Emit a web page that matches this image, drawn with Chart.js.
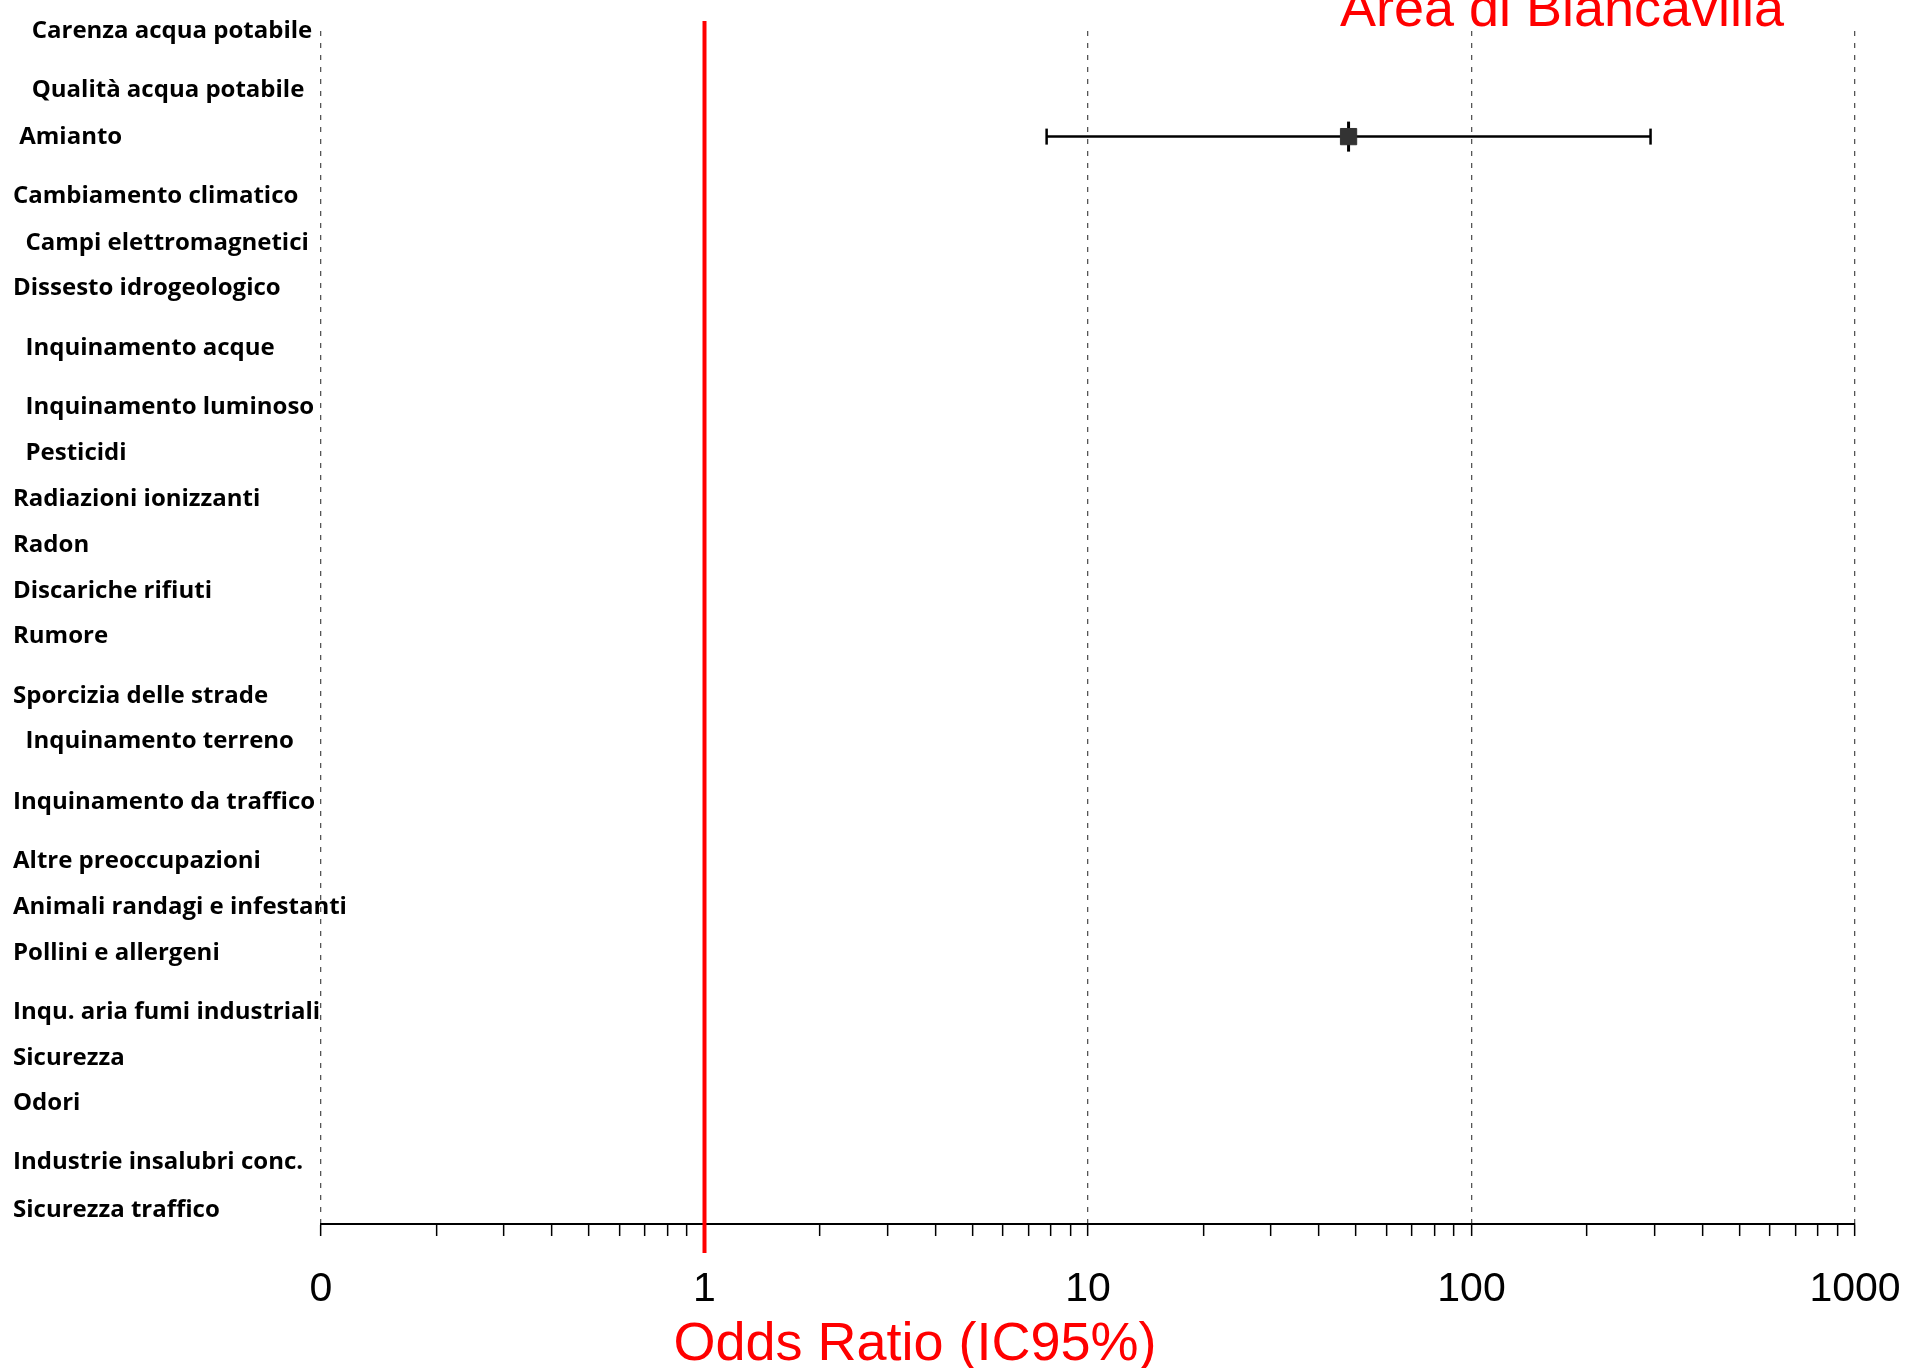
<!doctype html>
<html lang="it">
<head>
<meta charset="utf-8" />
<title>Odds Ratio - Area di Biancavilla</title>
<script src="https://cdn.jsdelivr.net/npm/chart.js@4.4.1/dist/chart.umd.min.js"></script>
<style>
    html, body {
        margin: 0;
        padding: 0;
        background: #fff;
    }

    #wrap {
        width: 1920px;
        height: 1368px;
    }
</style>
</head>
<body>
<div id="wrap"><canvas id="forest" width="1920" height="1368"></canvas></div>

<script>
    // preoccupazioni ambientali, dall'alto in basso (spazi iniziali come nell'originale)
    const categories = [
        '   Carenza acqua potabile',
        '   Qualità acqua potabile',
        ' Amianto',
        'Cambiamento climatico',
        '  Campi elettromagnetici',
        'Dissesto idrogeologico',
        '  Inquinamento acque',
        '  Inquinamento luminoso',
        '  Pesticidi',
        'Radiazioni ionizzanti',
        'Radon',
        'Discariche rifiuti',
        'Rumore',
        'Sporcizia delle strade',
        '  Inquinamento terreno',
        'Inquinamento da traffico',
        'Altre preoccupazioni',
        'Animali randagi e infestanti',
        'Pollini e allergeni',
        'Inqu. aria fumi industriali',
        'Sicurezza',
        'Odori',
        'Industrie insalubri conc.',
        'Sicurezza traffico'
    ];

    // posizione di ogni riga sull'asse verticale (unità di riga, spaziatura irregolare dell'originale)
    const rowPositions = [0, 1.15, 2.08, 3.23, 4.13, 5.02, 6.19, 7.33, 8.24, 9.13, 10.03, 10.92,
        11.81, 12.97, 13.86, 15.05, 16.2, 17.1, 17.98, 19.13, 20.04, 20.92, 22.07, 23];

    // odds ratio e IC95% (null = nessuna stima)
    const oddsRatio = [null, null, 47.8, null, null, null, null, null, null, null, null, null,
        null, null, null, null, null, null, null, null, null, null, null, null];
    const ciLower = [null, null, 7.8, null, null, null, null, null, null, null, null, null,
        null, null, null, null, null, null, null, null, null, null, null, null];
    const ciUpper = [null, null, 293, null, null, null, null, null, null, null, null, null,
        null, null, null, null, null, null, null, null, null, null, null, null];

    // asse x logaritmico: decadi ed etichette
    const decadeValues = [0.1, 1, 10, 100, 1000];
    const decadeLabels = ['0', '1', '10', '100', '1000'];
    const referenceValue = 1;

    const chartTitle = 'Area di Biancavilla';
    const axisTitle = 'Odds Ratio (IC95%)';

    const isDecade = v => Math.abs(Math.log10(v) - Math.round(Math.log10(v))) < 1e-6;

    // build the datasets from the arrays above
    const points = [];
    const whiskers = [];
    categories.forEach((c, i) => {
        if (oddsRatio[i] == null) return;
        points.push({ x: oddsRatio[i], y: rowPositions[i] });
        whiskers.push({
            showLine: true,
            data: [{ x: ciLower[i], y: rowPositions[i] }, { x: ciUpper[i], y: rowPositions[i] }],
            borderColor: '#000',
            borderWidth: 2.5,
            pointStyle: 'line',
            pointRotation: 90,
            pointRadius: 8,
            pointBorderWidth: 2.5,
            order: 3
        });
    });

    const datasets = [
        {
            data: points,
            pointStyle: 'rect',
            pointRadius: 11.5,
            backgroundColor: '#333',
            borderColor: '#333',
            order: 1
        },
        {
            data: points,
            pointStyle: 'line',
            pointRotation: 90,
            pointRadius: 15,
            pointBorderWidth: 3,
            borderColor: '#000',
            order: 2
        },
        ...whiskers
    ];

    // red reference line at OR = 1, row labels (they run past the axis, so drawn here) and red texts
    const extras = {
        id: 'extras',
        afterDatasetsDraw(chart) {
            const ctx = chart.ctx;
            const area = chart.chartArea;
            const x = chart.scales.x.getPixelForValue(referenceValue);
            ctx.save();
            ctx.strokeStyle = '#ff0000';
            ctx.lineWidth = 4;
            ctx.beginPath();
            ctx.moveTo(x, area.top - 10);
            ctx.lineTo(x, area.bottom + 29);
            ctx.stroke();
            ctx.restore();
        },
        afterDraw(chart) {
            const ctx = chart.ctx;
            const yScale = chart.scales.y;
            ctx.save();
            ctx.fillStyle = '#000';
            ctx.font = 'bold 24px "Open Sans", sans-serif';
            ctx.textAlign = 'left';
            ctx.textBaseline = 'middle';
            categories.forEach((label, i) => {
                ctx.fillText(label, yScale.left, yScale.getPixelForValue(rowPositions[i]) + 1);
            });

            ctx.fillStyle = '#ff0000';
            ctx.font = '54px "Liberation Sans", Arial, sans-serif';
            ctx.textAlign = 'center';
            ctx.textBaseline = 'alphabetic';
            ctx.fillText(chartTitle, 1562, 26);
            ctx.fillText(axisTitle, 915, 1360);
            ctx.restore();
        }
    };

    const chart = new Chart(document.getElementById('forest'), {
        type: 'scatter',
        data: { datasets: datasets },
        plugins: [extras],
        options: {
            responsive: false,
            animation: false,
            layout: {
                padding: { top: 31, right: 65, left: 13, bottom: 0 }
            },
            plugins: {
                legend: { display: false },
                tooltip: { enabled: false }
            },
            scales: {
                x: {
                    type: 'logarithmic',
                    position: 'bottom',
                    min: 0.1,
                    max: 1000,
                    afterBuildTicks: scale => {
                        const ticks = [];
                        decadeValues.forEach((d, i) => {
                            ticks.push({ value: d });
                            if (i < decadeValues.length - 1) {
                                for (let m = 2; m <= 9; m++) ticks.push({ value: d * m });
                            }
                        });
                        scale.ticks = ticks;
                    },
                    afterFit: scale => {
                        scale.height = 144;
                        // let the end labels hang over the margins
                        scale.paddingLeft = 0;
                        scale.paddingRight = 0;
                    },
                    ticks: {
                        autoSkip: false,
                        maxRotation: 0,
                        padding: 29,
                        color: '#000',
                        font: { family: '"Liberation Sans", Arial, sans-serif', size: 41 },
                        callback: value => {
                            const k = decadeValues.findIndex(d => Math.abs(d - value) < 1e-9);
                            return k >= 0 ? decadeLabels[k] : '';
                        }
                    },
                    grid: {
                        color: ctx => (ctx.tick && isDecade(ctx.tick.value)) ? '#555' : 'rgba(0,0,0,0)',
                        lineWidth: 1.3,
                        drawTicks: true,
                        tickLength: 12,
                        tickColor: '#000',
                        tickWidth: 1.5,
                        tickBorderDash: []
                    },
                    border: {
                        display: true,
                        color: '#000',
                        width: 2,
                        dash: [5, 7]
                    }
                },
                y: {
                    type: 'linear',
                    reverse: true,
                    min: 0.02,
                    max: 23.29,
                    afterFit: scale => {
                        scale.width = 308;
                    },
                    ticks: { display: false },
                    grid: { display: false },
                    border: { display: false }
                }
            }
        }
    });
</script>
</body>
</html>
